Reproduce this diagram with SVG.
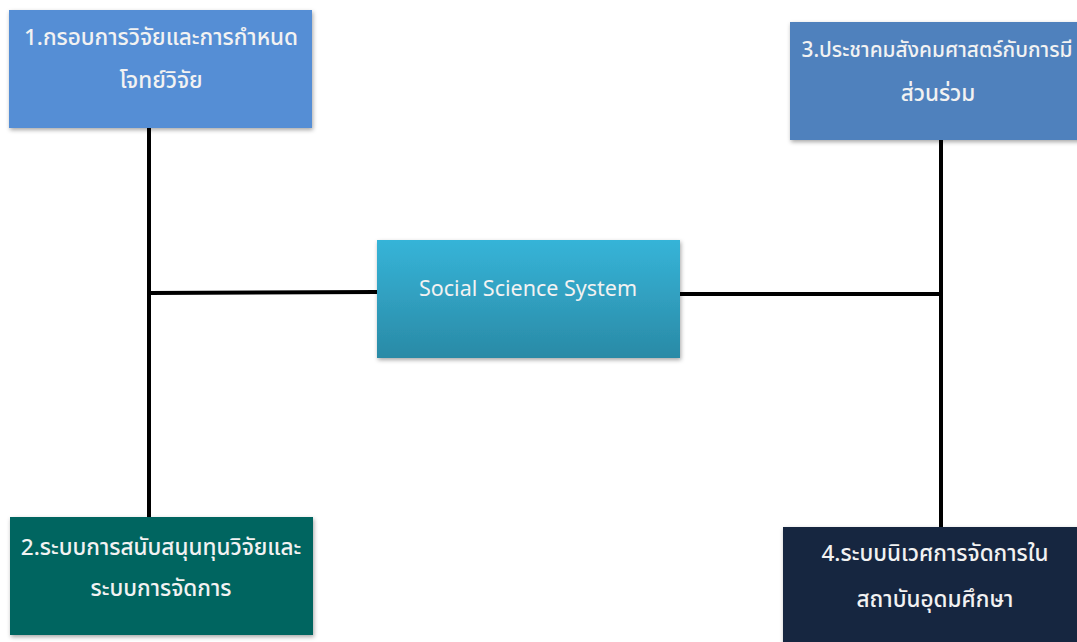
<svg xmlns="http://www.w3.org/2000/svg" width="1077" height="642" viewBox="0 0 1077 642">
<style>
.t{font-family:"Noto Sans","Noto Sans Thai","DejaVu Sans",sans-serif;font-size:22.5px;font-weight:500;fill:#F2F2F2;text-anchor:middle;dominant-baseline:central}
.e{font-size:21.5px;font-weight:400}
.c{stroke:#000;stroke-width:4;fill:none}
</style>
<defs>
<linearGradient id="g" x1="0" y1="0" x2="0" y2="1"><stop offset="0" stop-color="#36B4D8"/><stop offset="1" stop-color="#2A8AA6"/></linearGradient>
<filter id="s" x="-5%" y="-5%" width="115%" height="120%"><feDropShadow dx="1" dy="2" stdDeviation="2" flood-color="#000" flood-opacity="0.35"/></filter>
</defs>
<rect width="1077" height="642" fill="#fff"/>
<g id="connectors">
<line class="c" x1="149" y1="128" x2="149" y2="517"/>
<line class="c" x1="149" y1="293" x2="377" y2="292"/>
<line class="c" x1="941" y1="140" x2="941" y2="527"/>
<line class="c" x1="680" y1="294" x2="941" y2="294"/>
</g>
<g id="node1"><rect x="9" y="10" width="303" height="118" fill="#558ED5" filter="url(#s)"/><text class="t" x="161" y="36">1.กรอบการวิจัยและการกำหนด</text><text class="t" x="161" y="79">โจทย์วิจัย</text></g>
<g id="node3"><rect x="790" y="22" width="303" height="118" fill="#4F81BD" filter="url(#s)"/><text class="t" x="937" y="49" font-size="20.8" style="font-size:20.8px">3.ประชาคมสังคมศาสตร์กับการมี</text><text class="t" x="938" y="92">ส่วนร่วม</text></g>
<g id="center"><rect x="377" y="240" width="303" height="118" fill="url(#g)" filter="url(#s)"/><text class="t e" x="528" y="287">Social Science System</text></g>
<g id="node2"><rect x="10" y="517" width="303" height="118" fill="#006561" filter="url(#s)"/><text class="t" x="161" y="546">2.ระบบการสนับสนุนทุนวิจัยและ</text><text class="t" x="161" y="587">ระบบการจัดการ</text></g>
<g id="node4"><rect x="783" y="527" width="303" height="120" fill="#13253F" filter="url(#s)"/><text class="t" x="935" y="552">4.ระบบนิเวศการจัดการใน</text><text class="t" x="935" y="598">สถาบันอุดมศึกษา</text></g>
</svg>
